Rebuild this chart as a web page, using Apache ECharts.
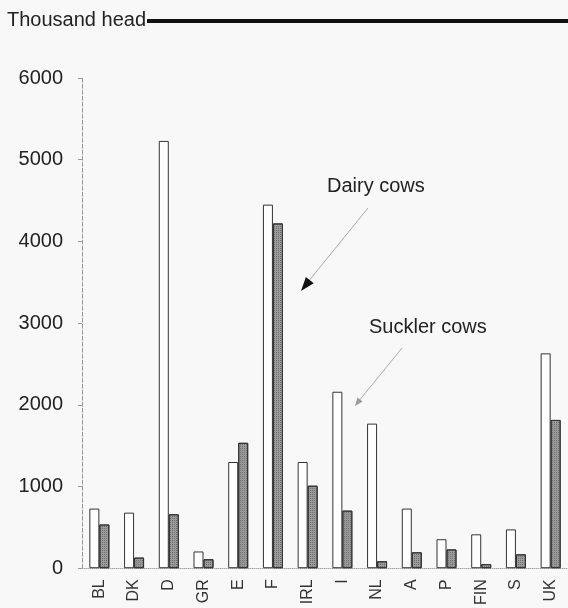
<!DOCTYPE html>
<html>
<head>
<meta charset="utf-8">
<script src="https://cdn.jsdelivr.net/npm/echarts@6/dist/echarts.min.js"></script>
<style>
html,body{margin:0;padding:0;background:#f8f8f8;}
#chart{width:568px;height:608px;}
</style>
</head>
<body>
<div id="chart"></div>
<script>
var categories = ['BL','DK','D','GR','E','F','IRL','I','NL','A','P','FIN','S','UK'];
var dairyCows = [730, 680, 5230, 205, 1300, 4450, 1300, 2160, 1770, 730, 355, 415, 475, 2630];
var sucklerCows = [535, 130, 660, 110, 1535, 4220, 1010, 705, 85, 195, 230, 50, 170, 1815];
var yTicks = [0, 1000, 2000, 3000, 4000, 5000, 6000];
var unitLabel = 'Thousand head';
var dairyLabel = 'Dairy cows';
var sucklerLabel = 'Suckler cows';

var chart = echarts.init(document.getElementById('chart'), null, {renderer: 'canvas'});
var font = 'Liberation Sans, Arial, sans-serif';
chart.setOption({
  backgroundColor: '#f8f8f8',
  animation: false,
  grid: {left: 82, right: 0, top: 78, bottom: 38, containLabel: false},
  xAxis: {
    type: 'category',
    data: categories,
    axisLine: {show: true, lineStyle: {color: '#aaa', type: 'dotted', width: 1}},
    axisTick: {show: false},
    axisLabel: {rotate: 90, color: '#333', fontSize: 16, fontFamily: font, margin: 11, interval: 0}
  },
  yAxis: {
    type: 'value',
    min: yTicks[0],
    max: yTicks[yTicks.length - 1],
    interval: 1000,
    splitLine: {show: false},
    axisLine: {show: true, lineStyle: {color: '#999', type: 'dashed', width: 1}},
    axisTick: {show: true, length: 4, lineStyle: {color: '#999'}},
    axisLabel: {color: '#222', fontSize: 20, fontFamily: font, margin: 19,
      formatter: function (v) { return String(v); }}
  },
  series: [
    {
      name: dairyLabel, type: 'bar', data: dairyCows,
      barWidth: 10, barGap: '0%',
      itemStyle: {color: '#ffffff', borderColor: '#333', borderWidth: 1}
    },
    {
      name: sucklerLabel, type: 'bar', data: sucklerCows,
      barWidth: 10,
      itemStyle: {color: '#9a9a9a', borderColor: '#333', borderWidth: 1,
        decal: {symbol: 'rect', symbolSize: 1, dashArrayX: [1, 1], dashArrayY: [1, 1], color: 'rgba(70,70,70,0.5)', rotation: 0}}
    }
  ],
  graphic: [
    {type: 'text', left: 7, top: 10, style: {text: unitLabel, font: '20px ' + font, fill: '#222'}},
    {type: 'line', shape: {x1: 147, y1: 21, x2: 568, y2: 21}, style: {stroke: '#111', lineWidth: 4}},
    {type: 'text', left: 327, top: 176, style: {text: dairyLabel, font: '20px ' + font, fill: '#222'}},
    {type: 'line', shape: {x1: 368, y1: 208, x2: 308, y2: 282}, style: {stroke: '#aaa', lineWidth: 1}},
    {type: 'polygon', shape: {points: [[301, 291], [313.7, 283.2], [305.9, 277.0]]}, style: {fill: '#111'}},
    {type: 'text', left: 369, top: 317, style: {text: sucklerLabel, font: '20px ' + font, fill: '#222'}},
    {type: 'line', shape: {x1: 402, y1: 348, x2: 358, y2: 402}, style: {stroke: '#aaa', lineWidth: 1}},
    {type: 'polygon', shape: {points: [[355, 406], [362.5, 401.5], [357.5, 397.5]]}, style: {fill: '#999'}}
  ]
});
</script>
</body>
</html>
